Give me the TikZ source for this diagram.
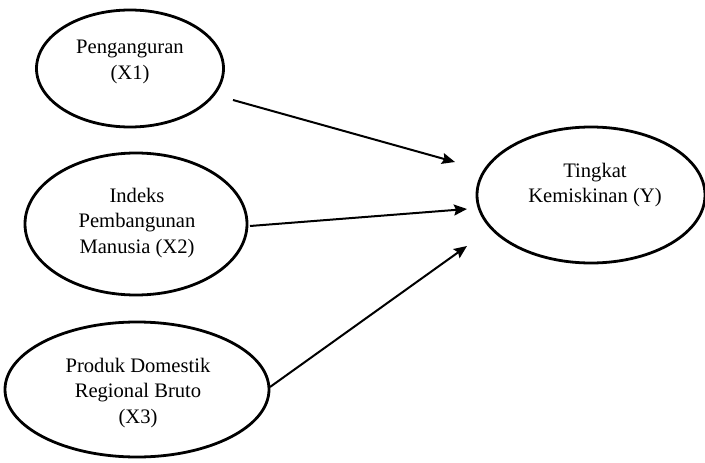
\documentclass[tikz,border=0pt]{standalone}
\usepackage{fontspec}
\setmainfont{Liberation Serif}
\usetikzlibrary{shapes.geometric,arrows.meta}
\begin{document}
\begin{tikzpicture}[x=1pt,y=-1pt,
  ell/.style={draw,ellipse,line width=2.8pt,inner sep=0pt},
  txt/.style={align=center,font=\fontsize{20.6}{25.5}\selectfont,inner sep=0pt},
  arr/.style={line width=2pt,-{Stealth[length=13pt,width=11pt,inset=2pt]}}]
\useasboundingbox (0,0) rectangle (705,463);
\node[ell,minimum width=187pt,minimum height=117pt] (x1) at (130,68.5) {};
\node[ell,minimum width=222pt,minimum height=142pt] (x2) at (136,224) {};
\node[ell,minimum width=264pt,minimum height=135pt] (x3) at (137,389.5) {};
\node[ell,minimum width=228pt,minimum height=136pt] (y) at (591,195) {};
\node[txt] (t1) at (130,62) {Penganguran\\(X1)};
\node[txt] (t2) at (137,223) {Indeks\\Pembangunan\\Manusia (X2)};
\node[txt] (t3) at (138,393) {Produk Domestik\\Regional Bruto\\(X3)};
\node[txt] (ty) at (595,185) {Tingkat\\Kemiskinan (Y)};
\coordinate (s1) at (233,100);
\coordinate (e1) at (455,162);
\coordinate (s2) at (250,226);
\coordinate (e2) at (467,209);
\coordinate (s3) at (270,387);
\coordinate (e3) at (467,246);
\draw[arr] (s1) -- (e1);
\draw[arr] (s2) -- (e2);
\draw[arr] (s3) -- (e3);
\end{tikzpicture}
\end{document}
